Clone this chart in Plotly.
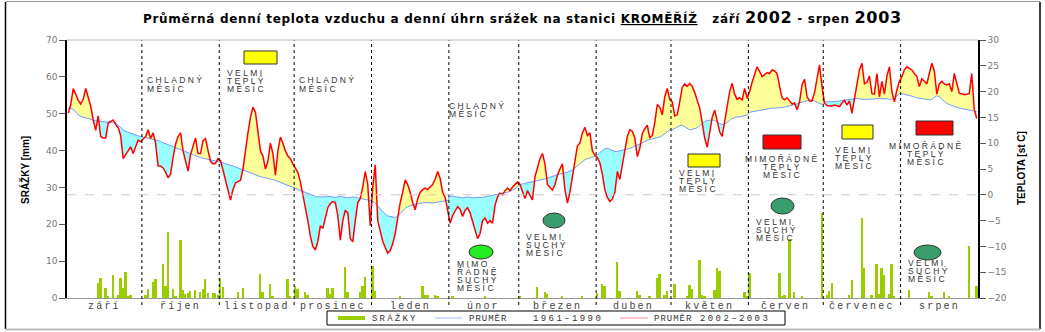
import numpy as np
import plotly.graph_objects as go

# ---- daily mean air temperature 2002/2003 [°C] ----
t_sep = [15.8,17.5,20.6,19.5,18.3,17.6,18.5,20.6,19.0,17.2,14.5,12.5,15.3,11.3,11.0,11.0,13.9,14.2,14.5,13.6,13.0,11.5,7.0,7.8,8.6,9.3,8.0,9.2,10.6,10.3]
t_oct = [10.9,11.3,12.6,10.9,12.0,10.0,5.6,5.6,5.2,4.4,3.3,4.0,7.2,9.8,11.3,12.0,8.5,6.8,4.6,7.8,9.3,11.0,8.0,8.0,10.5,10.9,8.6,6.5,6.0,6.1,7.0]
t_nov = [6.6,4.8,2.8,1.0,-1.0,1.0,2.3,2.6,2.8,5.0,9.0,12.0,15.0,17.0,16.0,12.0,8.5,7.5,5.0,6.5,10.0,8.0,3.8,8.5,11.2,10.0,8.5,7.5,7.0,6.0]
t_dec = [5.0,4.3,2.5,0.0,-2.0,-5.0,-8.0,-10.0,-10.7,-9.0,-6.0,-6.5,-4.5,-2.5,-1.7,-1.3,-1.5,-4.0,-8.8,-5.0,-3.0,-3.5,-8.5,-9.1,-5.0,-1.5,-0.7,1.5,4.5,2.0,-6.0]
t_jan = [1.5,5.8,-5.0,-7.0,-9.0,-10.2,-11.3,-10.8,-9.5,-7.5,-4.5,-1.5,0.5,2.9,2.0,0.5,-1.5,-2.9,-0.8,0.5,1.0,1.3,1.0,1.5,2.0,3.0,4.5,3.2,0.5,-0.5,-3.0]
t_feb = [-5.5,-4.0,-3.0,-2.3,-2.8,-4.2,-3.0,-2.5,-3.5,-5.0,-6.8,-8.5,-7.5,-5.0,-4.5,-5.5,-5.0,-5.5,-2.0,-0.4,0.3,0.0,0.8,1.3,0.8,1.5,2.0,2.5]
t_mar = [2.0,0.6,-0.7,0.8,0.0,-1.0,3.5,5.5,7.0,8.0,6.0,2.0,1.5,0.9,2.0,3.8,5.0,6.0,1.0,-1.6,0.5,3.5,6.5,9.5,10.0,12.0,13.1,11.5,12.0,8.5,7.7]
t_apr = [7.2,6.2,4.0,1.0,-0.5,-1.3,-0.8,0.5,4.5,3.0,6.0,8.5,11.3,12.6,12.3,11.0,7.4,9.0,11.9,12.8,13.5,11.0,11.5,14.0,17.5,17.0,15.5,19.0,20.6,18.5]
t_may = [18.0,15.3,15.5,18.0,20.8,21.5,21.0,21.6,21.0,19.8,18.4,16.8,14.0,11.0,9.2,12.5,15.0,16.4,14.5,12.2,11.3,14.0,17.5,20.0,21.6,19.5,18.5,18.8,18.4,20.6,18.7]
t_jun = [20.0,21.8,23.3,24.8,23.9,22.9,23.3,23.7,23.5,24.2,24.0,23.5,21.0,18.8,18.4,18.8,18.2,17.6,17.8,16.5,18.0,21.3,22.4,19.0,18.2,18.2,19.8,22.2,25.2,21.0]
t_jul = [17.8,17.3,17.2,17.2,17.4,17.2,17.1,17.8,18.3,17.4,18.2,15.8,18.5,22.0,24.2,25.5,21.5,21.8,23.0,19.6,19.5,23.5,19.0,22.0,19.5,23.0,24.8,20.0,18.0,20.3,22.0]
t_aug = [22.9,24.2,24.8,24.5,24.2,23.5,22.9,21.0,22.5,22.0,21.5,23.5,25.5,24.0,19.5,21.5,22.0,21.5,21.3,21.5,20.0,23.5,21.5,19.7,19.6,19.4,19.5,19.6,23.5,16.5,14.8]

# ---- long-term daily mean 1961-1990 [°C] ----
n_sep = [16.8,16.8,16.6,16.0,15.5,15.2,15.0,14.9,14.8,14.6,14.5,14.4,14.3,14.2,14.2,14.1,14.1,14.0,14.0,13.9,13.5,13.0,12.6,12.3,12.1,11.9,11.7,11.6,11.4,11.3]
n_oct = [11.2,11.1,11.0,10.9,10.8,10.7,10.5,10.3,10.1,9.9,9.7,9.5,9.3,9.1,8.9,8.7,8.5,8.3,8.1,7.9,7.7,7.5,7.4,7.2,7.1,7.0,6.9,6.8,6.7,6.6,6.5]
n_nov = [6.4,6.2,6.0,5.8,5.7,5.6,5.4,5.2,5.0,4.8,4.6,4.4,4.2,4.0,3.8,3.6,3.5,3.4,3.3,3.2,3.1,3.0,2.8,2.6,2.4,2.2,2.0,1.8,1.6,1.4]
n_dec = [1.2,1.0,0.8,0.6,0.4,0.2,0.0,-0.2,-0.3,-0.4,-0.4,-0.5,-0.4,-0.3,-0.4,-0.5,-0.5,-0.4,-0.3,-0.4,-0.5,-0.6,-0.5,-0.4,-0.5,-0.6,-0.7,-0.8,-0.9,-1.0,-1.0]
n_jan = [-1.2,-1.6,-2.2,-2.8,-3.3,-3.8,-4.1,-4.2,-4.3,-4.4,-4.1,-3.6,-3.0,-2.6,-2.3,-2.1,-1.9,-1.8,-1.7,-1.6,-1.6,-1.5,-1.5,-1.6,-1.6,-1.5,-1.4,-1.4,-1.3,-1.2,-1.1]
n_feb = [-0.2,-0.3,-0.4,-0.5,-0.5,-0.6,-0.5,-0.4,-0.5,-0.6,-0.5,-0.5,-0.6,-0.5,-0.4,-0.3,-0.2,-0.1,0.0,0.0,0.1,0.2,0.3,0.5,0.7,0.9,1.2,1.5]
n_mar = [2.0,2.1,2.2,2.3,2.4,2.5,2.6,2.7,2.8,2.9,3.0,3.2,3.4,3.6,3.8,3.9,4.0,4.1,4.2,4.4,4.6,4.8,5.2,5.6,6.0,6.4,6.8,7.0,7.2,7.3,7.4]
n_apr = [7.7,8.2,8.6,8.9,9.0,8.8,8.5,8.4,8.4,8.5,8.6,8.7,8.8,9.0,9.2,9.4,9.6,9.8,10.0,10.3,10.6,10.7,10.8,10.9,11.0,11.2,11.5,11.9,12.3,12.6]
n_may = [12.6,12.9,13.2,13.4,13.5,13.2,12.9,12.6,12.7,12.8,13.0,13.4,13.9,14.2,14.4,14.5,14.5,14.4,14.2,13.8,13.6,13.7,14.0,14.4,14.8,15.0,15.1,15.1,15.2,15.3,15.5]
n_jun = [16.0,16.1,16.2,16.3,16.4,16.5,16.6,16.7,16.8,16.8,16.8,16.8,16.8,16.9,17.0,17.1,17.2,17.3,17.4,17.6,17.8,18.0,18.1,18.2,18.3,18.4,18.2,18.0,17.7,17.5]
n_jul = [18.0,18.0,18.0,18.1,18.1,18.1,18.2,18.2,18.3,18.4,18.5,18.6,18.7,18.7,18.6,18.5,18.5,18.5,18.5,18.5,18.6,18.6,18.7,18.7,18.6,18.6,18.5,18.5,18.7,19.2,19.6]
n_aug = [19.6,19.5,19.4,19.3,19.2,19.0,18.8,18.7,18.6,18.5,18.4,18.4,18.5,18.8,19.2,19.0,18.5,18.0,17.7,17.5,17.3,17.1,16.9,16.8,16.7,16.6,16.5,16.4,16.3,16.2,16.1]

# ---- daily precipitation [mm]: day of the season (0 = 1 Sep 2002) and amount ----
rain_day = [12,13,15,16,18,20,21,22,23,24,25,
            31,32,34,35,38,39,40,42,43,45,46,47,48,49,51,53,54,55,56,58,59,60,
            61,62,68,70,77,78,81,82,88,89,
            91,92,95,96,104,105,106,111,112,117,118,119,
            122,123,133,142,143,144,147,148,
            154,167,
            181,188,191,192,198,206,
            212,214,215,220,221,228,229,233,236,237,239,240,
            243,248,249,250,253,254,255,259,260,261,271,272,
            273,285,286,287,289,291,294,302,
            304,305,306,313,314,318,319,322,324,325,326,327,329,330,331,
            337,345,346,351,353,361,364]
rain_mm = [4.0,5.5,2.8,0.3,6.2,0.8,5.3,2.8,7.1,0.5,0.8,
           0.8,2.4,4.4,5.2,9.1,3.3,17.8,2.4,0.3,15.7,2.2,1.0,1.3,1.8,2.2,1.6,2.5,5.2,1.3,1.3,1.3,0.8,
           5.5,2.9,1.6,2.6,6.5,1.6,3.7,0.3,5.2,0.3,
           3.3,2.5,1.6,0.8,2.8,1.0,2.6,8.5,1.6,1.6,3.3,5.8,
           8.7,1.8,0.3,3.3,0.8,0.8,0.8,0.5,
           0.3,0.3,
           0.5,2.9,1.6,1.0,0.5,0.3,
           1.3,3.8,3.3,9.9,1.8,1.8,0.8,0.5,5.3,6.5,0.8,1.8,
           3.8,0.5,3.5,2.5,10.3,0.8,0.5,2.2,8.1,7.3,1.5,0.6,
           6.7,6.7,0.3,0.8,15.9,1.5,0.5,23.0,
           0.8,1.8,4.2,0.8,4.9,21.6,8.1,0.8,9.2,1.0,8.1,6.2,1.0,9.2,0.5,
           2.2,1.5,0.6,1.5,0.5,14.2,3.3]

month_names = ["září", "říjen", "listopad", "prosinec", "leden", "únor",
               "březen", "duben", "květen", "červen", "červenec", "srpen"]
month_days = [30, 31, 30, 31, 31, 28, 31, 30, 31, 30, 31, 31]

temp = np.array(t_sep + t_oct + t_nov + t_dec + t_jan + t_feb + t_mar + t_apr + t_may + t_jun + t_jul + t_aug)
norm = np.array(n_sep + n_oct + n_nov + n_dec + n_jan + n_feb + n_mar + n_apr + n_may + n_jun + n_jul + n_aug)
ndays = len(temp)
xd = np.arange(ndays) + 0.5

# insert crossing points so the warm/cold fills meet exactly where the curves cross
fx, ft, fn = [xd[0]], [temp[0]], [norm[0]]
for i in range(1, ndays):
    d0, d1 = temp[i-1] - norm[i-1], temp[i] - norm[i]
    if d0 * d1 < 0:
        f = d0 / (d0 - d1)
        xc = xd[i-1] + f
        yc = norm[i-1] + f * (norm[i] - norm[i-1])
        fx.append(xc); ft.append(yc); fn.append(yc)
    fx.append(xd[i]); ft.append(temp[i]); fn.append(norm[i])
fx, ft, fn = np.array(fx), np.array(ft), np.array(fn)
upper = np.maximum(ft, fn)
lower = np.minimum(ft, fn)

RED = "#FF0000"
BLUE = "#6F9BFF"
GREEN = "#9ACD00"
FONT = "Liberation Sans"

fig = go.Figure()
fig.add_trace(go.Bar(x=np.array(rain_day) + 0.5, y=rain_mm, width=0.75,
                     marker=dict(color=GREEN, line=dict(width=0)), yaxis="y"))
fig.add_trace(go.Scatter(x=fx, y=fn, mode="lines", line=dict(width=0), yaxis="y2"))
fig.add_trace(go.Scatter(x=fx, y=upper, mode="lines", line=dict(width=0), fill="tonexty",
                         fillcolor="#FFFF99", yaxis="y2"))
fig.add_trace(go.Scatter(x=fx, y=fn, mode="lines", line=dict(width=0), yaxis="y2"))
fig.add_trace(go.Scatter(x=fx, y=lower, mode="lines", line=dict(width=0), fill="tonexty",
                         fillcolor="#99FFFF", yaxis="y2"))
fig.add_trace(go.Scatter(x=xd, y=norm, mode="lines", line=dict(color=BLUE, width=1), yaxis="y2"))
fig.add_trace(go.Scatter(x=xd, y=temp, mode="lines", line=dict(color=RED, width=1.5), yaxis="y2"))

PL, PR, PT, PB = 67, 978, 40, 298
def px(x):
    return (x - PL) / (PR - PL)
def py(y):
    return (PB - y) / (PB - PT)
def sp(text, ls):
    return f"<span style='letter-spacing:{ls}px'>{text}</span>"

shapes = []
annotations = []

# month boundaries and month names
bounds = np.cumsum(month_days)
for b in bounds[:-1]:
    shapes.append(dict(type="line", xref="x", yref="paper", x0=b, x1=b, y0=py(305), y1=1,
                       line=dict(color="black", width=1, dash="dot")))
starts = np.concatenate([[0], bounds[:-1]])
for s, n, name in zip(starts, month_days, month_names):
    annotations.append(dict(x=s + n / 2, y=py(306), xref="x", yref="paper", showarrow=False,
                            text=sp(name, 2.2), font=dict(family="Liberation Mono", size=10, color="#444"),
                            xanchor="center", yanchor="middle"))

# 0 °C reference and top frame line of the plot
shapes.append(dict(type="line", xref="paper", yref="y2", x0=0, x1=1, y0=0, y1=0,
                   line=dict(color="#C8C8C8", width=1, dash="dash")))
shapes.append(dict(type="line", xref="paper", yref="paper", x0=0, x1=1, y0=1, y1=1,
                   line=dict(color="#BBBBBB", width=1)))

# outer frame
shapes += [
    dict(type="line", xref="paper", yref="paper", x0=px(5.5), x1=px(5.5), y0=py(2), y1=py(329),
         line=dict(color="black", width=1.5)),
    dict(type="line", xref="paper", yref="paper", x0=px(1040), x1=px(1040), y0=py(2), y1=py(329),
         line=dict(color="black", width=1.5)),
    dict(type="line", xref="paper", yref="paper", x0=px(5.5), x1=px(1040), y0=py(1.5), y1=py(1.5),
         line=dict(color="#999999", width=1)),
    dict(type="line", xref="paper", yref="paper", x0=px(5.5), x1=px(1040), y0=py(329.5), y1=py(329.5),
         line=dict(color="#BBBBBB", width=2)),
]

# monthly anomaly markers
def box(x0, y0, x1, y1, color):
    shapes.append(dict(type="rect", xref="paper", yref="paper", x0=px(x0), x1=px(x1), y0=py(y1), y1=py(y0),
                       fillcolor=color, line=dict(color="#333333", width=1)))
def dot(x0, y0, x1, y1, color):
    shapes.append(dict(type="circle", xref="paper", yref="paper", x0=px(x0), x1=px(x1), y0=py(y1), y1=py(y0),
                       fillcolor=color, line=dict(color="#333333", width=1)))
def label(x, yc, text, anchor="left", pitch=8.2):
    for k, line in enumerate(text.split("\n")):
        annotations.append(dict(x=px(x), y=py(yc + k * pitch), xref="paper", yref="paper", showarrow=False,
                                text=sp(line, 2.4), xanchor=anchor, yanchor="middle",
                                font=dict(family=FONT, size=8.5, color="#333333")))

label(145, 80.5, "CHLADNÝ\nMĚSÍC")
box(244, 51, 277, 64, "#FFFF00")
label(246, 72.5, "VELMI\nTEPLÝ\nMĚSÍC", "center")
label(297, 80.5, "CHLADNÝ\nMĚSÍC")
label(447, 105.5, "CHLADNÝ\nMĚSÍC")
dot(469, 245, 493, 259, "#22EE22")
label(455, 264, "MIMO\nŘÁDNĚ\nSUCHÝ\nMĚSÍC", pitch=7.9)
dot(543, 213, 565, 228, "#3A9E6C")
label(524, 237, "VELMI\nSUCHÝ\nMĚSÍC")
box(688, 154, 720, 167, "#FFFF00")
label(698, 172.5, "VELMI\nTEPLÝ\nMĚSÍC", "center")
box(763, 135, 801, 149, "#FF0000")
label(782, 158.5, "MIMOŘÁDNĚ\nTEPLÝ\nMĚSÍC", "center")
dot(771, 198, 794, 214, "#3A9E6C")
label(754, 222, "VELMI\nSUCHÝ\nMĚSÍC")
box(842, 125, 873, 139, "#FFFF00")
label(854, 150, "VELMI\nTEPLÝ\nMĚSÍC", "center")
box(916, 121, 953, 135, "#FF0000")
label(926, 146, "MIMOŘÁDNĚ\nTEPLÝ\nMĚSÍC", "center")
dot(914, 245, 941, 260, "#3A9E6C")
label(906, 263, "VELMI\nSUCHÝ\nMĚSÍC")

# legend
shapes.append(dict(type="rect", xref="paper", yref="paper", x0=px(327), x1=px(785), y0=py(325), y1=py(311),
                   line=dict(color="black", width=1), fillcolor="white"))
legend_lines = [(338, 365, GREEN, 4), (435, 462, "#9DB8FF", 1), (620, 648, "#FF8C8C", 1)]
for x0, x1, c, w in legend_lines:
    shapes.append(dict(type="line", xref="paper", yref="paper", x0=px(x0), x1=px(x1), y0=py(318), y1=py(318),
                       line=dict(color=c, width=w)))
legend_texts = [(370, "SRÁŽKY", 2.2), (467, "PRUMĚR", 1.0), (531, "1961–1990", 2.4),
                (652, "PRUMĚR", 1.0), (698, "2002–2003", 2.4)]
for tx, txt, ls in legend_texts:
    annotations.append(dict(x=px(tx), y=py(318.5), xref="paper", yref="paper", showarrow=False,
                            text=sp(txt, ls), xanchor="left", yanchor="middle",
                            font=dict(family="Liberation Mono", size=9, color="#333")))

# title and axis titles
title = ("Průměrná denní teplota vzduchu a denní úhrn srážek na stanici <u>KROMĚŘÍŽ</u>"
         "\u00a0\u00a0\u00a0září <span style='font-size:16px'>2002</span> - srpen "
         "<span style='font-size:16px'>2003</span>")
annotations.append(dict(x=px(522), y=py(17), xref="paper", yref="paper", showarrow=False,
                        text=f"<b><span style='letter-spacing:0.7px'>{title}</span></b>",
                        xanchor="center", yanchor="middle",
                        font=dict(family="DejaVu Sans", size=12, color="black")))
annotations.append(dict(x=px(25), y=py(170), xref="paper", yref="paper", showarrow=False,
                        text="<b>SRÁŽKY [mm]</b>", textangle=-90, xanchor="center", yanchor="middle",
                        font=dict(family=FONT, size=10, color="black")))
annotations.append(dict(x=px(1021), y=py(168), xref="paper", yref="paper", showarrow=False,
                        text="<b>TEPLOTA [st C]</b>", textangle=-90, xanchor="center", yanchor="middle",
                        font=dict(family=FONT, size=10, color="black")))

tickfont = dict(family="DejaVu Sans", size=9, color="#777777")
fig.update_layout(
    width=1045, height=332,
    margin=dict(l=PL, r=1045 - PR, t=PT, b=332 - PB),
    paper_bgcolor="white", plot_bgcolor="white",
    showlegend=False, bargap=0,
    xaxis=dict(range=[0, ndays], showticklabels=False, ticks="", showgrid=False, zeroline=False,
               showline=True, linecolor="#999999", linewidth=1),
    yaxis=dict(range=[0, 70], dtick=10, ticks="outside", ticklen=6, tickcolor="#555555",
               showgrid=False, zeroline=False, showline=True, linecolor="black", linewidth=1.5,
               tickfont=tickfont),
    yaxis2=dict(range=[-20, 30], dtick=5, overlaying="y", side="right", ticks="outside", ticklen=6,
                tickcolor="#555555", showgrid=False, zeroline=False, showline=True,
                linecolor="black", linewidth=1.5, tickfont=tickfont),
    shapes=shapes, annotations=annotations,
)

fig.write_html("out.html")
